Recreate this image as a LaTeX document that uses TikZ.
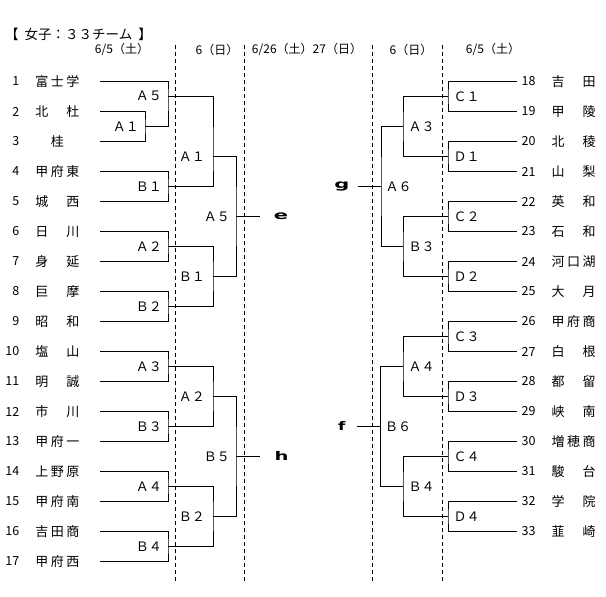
\documentclass[tikz,border=0pt]{standalone}
\usepackage{fontspec}
\usepackage{graphicx}
\setmainfont{Noto Sans CJK JP}
\newfontfamily\symfont{DejaVu Sans}
\tikzset{
  ln/.style={line width=1pt},
  dl/.style={line width=0.9pt, dash pattern=on 4pt off 3pt},
  lbl/.style={inner sep=0pt, font=\fontsize{13}{13}\selectfont},
  num/.style={inner sep=0pt, font=\fontsize{12.5}{12.5}\selectfont},
  nmst/.style={inner sep=0pt, font=\fontsize{13}{13}\selectfont},
  hdr/.style={inner sep=0pt, font=\fontsize{12}{12}\selectfont},
  ttl/.style={inner sep=0pt, font=\fontsize{13.5}{13.5}\selectfont},
  sym/.style={inner sep=0pt, font=\fontsize{14}{14}\symfont\bfseries},
}
\newcommand\nmb[3]{\makebox[15.5pt]{#1}\makebox[15.5pt]{#2}\makebox[15.5pt]{#3}}
\newcommand\teamL[5]{%
  \node[num, anchor=east] (nL#1) at (19.5,{81.5+30*(#1-1)}) {#2};
  \node[nmst] (tL#1) at (57.5,{81.5+30*(#1-1)}) {\nmb{#3}{#4}{#5}};
  \coordinate (sL#1) at (100,{81.5+30*(#1-1)});
}
\newcommand\teamR[5]{%
  \node[num, anchor=west] (nR#1) at (521.5,{81.5+30*(#1-1)}) {#2};
  \node[nmst] (tR#1) at (573.7,{81.5+30*(#1-1)}) {\nmb{#3}{#4}{#5}};
  \coordinate (sR#1) at (517,{81.5+30*(#1-1)});
}
% bracket: top, bottom, mid name, x, y
\newcommand\brk[5]{%
  \coordinate (#3) at (#4,#5);
  \draw[ln] (#1) -| (#3) |- (#2);
}
\begin{document}
\begin{tikzpicture}[x=1pt,y=-1pt]
\useasboundingbox (0,0) rectangle (606,597);
\fill[white] (0,0) rectangle (606,597);

% title and headers
\node[ttl, anchor=west] (title) at (5,34.5) {【\hspace{6pt}女子：３３チーム\hspace{6pt}】};
\node[hdr] (h1) at (122,49.5) {6/5（土）};
\node[hdr] (h2) at (217,49.5) {6（日）};
\node[hdr] (h3) at (307,49.5) {6/26（土）27（日）};
\node[hdr] (h4) at (411,49.5) {6（日）};
\node[hdr] (h5) at (493,49.5) {6/5（土）};

% dashed separators
\foreach \xx in {175,244,372.5,442}
  \draw[dl] (\xx,45) -- (\xx,583);

% left teams
\teamL{1}{1}{富}{士}{学}
\teamL{2}{2}{北}{}{杜}
\teamL{3}{3}{}{桂}{}
\teamL{4}{4}{甲}{府}{東}
\teamL{5}{5}{城}{}{西}
\teamL{6}{6}{日}{}{川}
\teamL{7}{7}{身}{}{延}
\teamL{8}{8}{巨}{}{摩}
\teamL{9}{9}{昭}{}{和}
\teamL{10}{10}{塩}{}{山}
\teamL{11}{11}{明}{}{誠}
\teamL{12}{12}{市}{}{川}
\teamL{13}{13}{甲}{府}{一}
\teamL{14}{14}{上}{野}{原}
\teamL{15}{15}{甲}{府}{南}
\teamL{16}{16}{吉}{田}{商}
\teamL{17}{17}{甲}{府}{西}

% right teams
\teamR{1}{18}{吉}{}{田}
\teamR{2}{19}{甲}{}{陵}
\teamR{3}{20}{北}{}{稜}
\teamR{4}{21}{山}{}{梨}
\teamR{5}{22}{英}{}{和}
\teamR{6}{23}{石}{}{和}
\teamR{7}{24}{河}{口}{湖}
\teamR{8}{25}{大}{}{月}
\teamR{9}{26}{甲}{府}{商}
\teamR{10}{27}{白}{}{根}
\teamR{11}{28}{都}{}{留}
\teamR{12}{29}{峡}{}{南}
\teamR{13}{30}{増}{穂}{商}
\teamR{14}{31}{駿}{}{台}
\teamR{15}{32}{学}{}{院}
\teamR{16}{33}{韮}{}{崎}

% ---- left brackets, round 1
\brk{sL2}{sL3}{LA1}{145}{126.5}
\brk{sL1}{LA1}{LA5}{168}{96}
\brk{sL4}{sL5}{LB1}{168}{186.5}
\brk{sL6}{sL7}{LA2}{168}{246.5}
\brk{sL8}{sL9}{LB2}{168}{306.5}
\brk{sL10}{sL11}{LA3}{168}{366.5}
\brk{sL12}{sL13}{LB3}{168}{426.5}
\brk{sL14}{sL15}{LA4}{168}{486.5}
\brk{sL16}{sL17}{LB4}{168}{546.5}
% round 2
\brk{LA5}{LB1}{MA1}{213}{156.5}
\brk{LA2}{LB2}{MB1}{213}{276.5}
\brk{LA3}{LB3}{MA2}{213}{396.5}
\brk{LA4}{LB4}{MB2}{213}{516.5}
% round 3
\brk{MA1}{MB1}{NA5}{236}{216.5}
\brk{MA2}{MB2}{NB5}{236}{456.5}
\coordinate (eEnd) at (260,216.5);
\coordinate (hEnd) at (260,456.5);
\draw[ln] (NA5) -- (eEnd);
\draw[ln] (NB5) -- (hEnd);
\node[sym] (eS) at (281,216.5) {\scalebox{1.5}[0.85]{e}};
\node[sym] (hS) at (281.5,455.5) {\scalebox{1.4}[0.85]{h}};

% left labels
\node[lbl, anchor=east] (lLA1) at ([xshift=-6pt]LA1) {Ａ１};
\node[lbl, anchor=east] (lLA5) at ([xshift=-6pt]LA5) {Ａ５};
\node[lbl, anchor=east] (lLB1) at ([xshift=-6pt]LB1) {Ｂ１};
\node[lbl, anchor=east] (lLA2) at ([xshift=-6pt]LA2) {Ａ２};
\node[lbl, anchor=east] (lLB2) at ([xshift=-6pt]LB2) {Ｂ２};
\node[lbl, anchor=east] (lLA3) at ([xshift=-6pt]LA3) {Ａ３};
\node[lbl, anchor=east] (lLB3) at ([xshift=-6pt]LB3) {Ｂ３};
\node[lbl, anchor=east] (lLA4) at ([xshift=-6pt]LA4) {Ａ４};
\node[lbl, anchor=east] (lLB4) at ([xshift=-6pt]LB4) {Ｂ４};
\node[lbl, anchor=east] (lMA1) at ([xshift=-8pt]MA1) {Ａ１};
\node[lbl, anchor=east] (lMB1) at ([xshift=-8pt]MB1) {Ｂ１};
\node[lbl, anchor=east] (lMA2) at ([xshift=-8pt]MA2) {Ａ２};
\node[lbl, anchor=east] (lMB2) at ([xshift=-8pt]MB2) {Ｂ２};
\node[lbl, anchor=east] (lNA5) at ([xshift=-6pt]NA5) {Ａ５};
\node[lbl, anchor=east] (lNB5) at ([xshift=-6pt]NB5) {Ｂ５};

% ---- right brackets, round 1
\brk{sR1}{sR2}{RC1}{448}{96.5}
\brk{sR3}{sR4}{RD1}{448}{156.5}
\brk{sR5}{sR6}{RC2}{448}{216.5}
\brk{sR7}{sR8}{RD2}{448}{276.5}
\brk{sR9}{sR10}{RC3}{448}{336.5}
\brk{sR11}{sR12}{RD3}{448}{396.5}
\brk{sR13}{sR14}{RC4}{448}{456.5}
\brk{sR15}{sR16}{RD4}{448}{516.5}
% round 2
\brk{RC1}{RD1}{SA3}{403}{126.5}
\brk{RC2}{RD2}{SB3}{403}{246.5}
\brk{RC3}{RD3}{SA4}{403}{366.5}
\brk{RC4}{RD4}{SB4}{403}{486.5}
% round 3
\brk{SA3}{SB3}{TA6}{381}{186.5}
\brk{SA4}{SB4}{TB6}{380.5}{426.5}
\coordinate (gEnd) at (357.5,186.5);
\coordinate (fEnd) at (357,426.5);
\draw[ln] (TA6) -- (gEnd);
\draw[ln] (TB6) -- (fEnd);
\node[sym] (gS) at (342,186) {\scalebox{1.5}[0.85]{g}};
\node[sym] (fS) at (341.7,426) {\scalebox{1.2}[0.85]{f}};

% right labels
\node[lbl, anchor=west] (lRC1) at ([xshift=5.5pt]RC1) {Ｃ１};
\node[lbl, anchor=west] (lRD1) at ([xshift=5.5pt]RD1) {Ｄ１};
\node[lbl, anchor=west] (lRC2) at ([xshift=5.5pt]RC2) {Ｃ２};
\node[lbl, anchor=west] (lRD2) at ([xshift=5.5pt]RD2) {Ｄ２};
\node[lbl, anchor=west] (lRC3) at ([xshift=5.5pt]RC3) {Ｃ３};
\node[lbl, anchor=west] (lRD3) at ([xshift=5.5pt]RD3) {Ｄ３};
\node[lbl, anchor=west] (lRC4) at ([xshift=5.5pt]RC4) {Ｃ４};
\node[lbl, anchor=west] (lRD4) at ([xshift=5.5pt]RD4) {Ｄ４};
\node[lbl, anchor=west] (lSA3) at ([xshift=5.5pt]SA3) {Ａ３};
\node[lbl, anchor=west] (lSB3) at ([xshift=5.5pt]SB3) {Ｂ３};
\node[lbl, anchor=west] (lSA4) at ([xshift=5.5pt]SA4) {Ａ４};
\node[lbl, anchor=west] (lSB4) at ([xshift=5.5pt]SB4) {Ｂ４};
\node[lbl, anchor=west] (lTA6) at ([xshift=4.5pt]TA6) {Ａ６};
\node[lbl, anchor=west] (lTB6) at ([xshift=4.5pt]TB6) {Ｂ６};
\end{tikzpicture}
\end{document}
